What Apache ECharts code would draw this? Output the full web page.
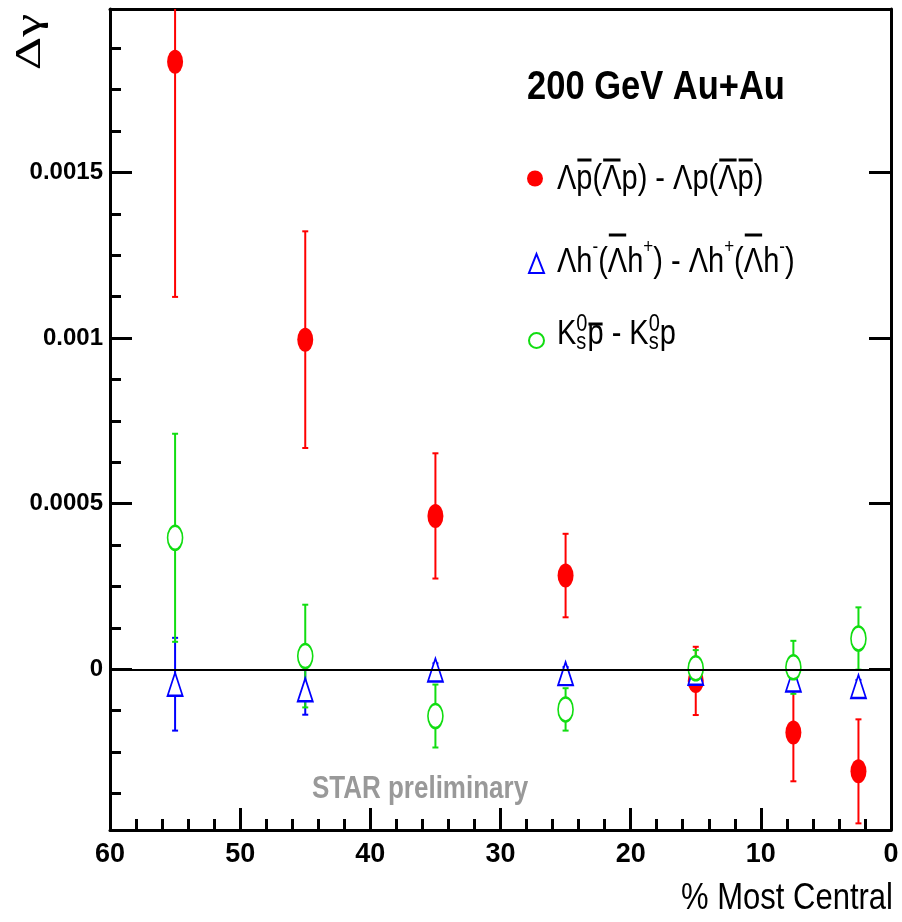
<!DOCTYPE html>
<html><head><meta charset="utf-8">
<script src="https://cdn.jsdelivr.net/npm/echarts@6/dist/echarts.min.js"></script>
<style>html,body{margin:0;padding:0;background:#fff}#c{width:902px;height:922px}</style>
</head><body><div id="c"></div>
<script>
// ---------------- data ----------------
const centrality = [55, 45, 35, 25, 15, 7.5, 2.5];
const lamP = [0.001834, 0.000995, 0.000463, 0.000283, -0.000035, -0.000191, -0.000308];
const lamPErr = [0.00071, 0.000327, 0.000189, 0.000126, 0.000103, 0.000147, 0.000157];
const lamH = [-0.000045, -0.000062, -0.000002, -0.000013, -0.000012, -0.000032, -0.000052];
const lamHErr = [0.00014, 0.000075, 0.00002, 0.00002, 0.00004, 0.00003, 0.00002];
const k0p = [0.000397, 0.00004, -0.000141, -0.000121, 0.000003, 0.000006, 0.000093];
const k0pErr = [0.000314, 0.000155, 0.000095, 0.000064, 0.000055, 0.00008, 0.000094];
const yMajorTicks = [0, 0.0005, 0.001, 0.0015];
const yTickLabels = ['0', '0.0005', '0.001', '0.0015'];
const yMinorTicks = [-0.000375, -0.00025, -0.000125, 0.000125, 0.00025, 0.000375, 0.000625, 0.00075, 0.000875,
  0.001125, 0.00125, 0.001375, 0.001625, 0.00175, 0.001875];
const xTicks = [60, 50, 40, 30, 20, 10, 0];

const SANS = '"Liberation Sans", Arial, Helvetica, sans-serif';
const RED = '#ff0000', BLUE = '#0000ff', GREEN = '#11dd11';
const SY = 1.2; // vertical stretch of the text, as in the reference

// ---------------- helpers ----------------
function errSeries(name, vals, errs, color) {
  return {
    type: 'custom', name: name, silent: true,
    data: centrality.map((x, i) => [x, vals[i], errs[i]]),
    encode: { x: 0, y: 1 },
    renderItem: function (params, api) {
      const x = api.value(0), y = api.value(1), e = api.value(2);
      const cs = params.coordSys;
      const t = api.coord([x, y + e]), b = api.coord([x, y - e]);
      let y1 = t[1], y2 = b[1];
      const children = [];
      let capTop = true, capBot = true;
      if (y1 < cs.y) { y1 = cs.y; capTop = false; }
      if (y2 > cs.y + cs.height) { y2 = cs.y + cs.height; capBot = false; }
      children.push({ type: 'line', shape: { x1: t[0], y1: y1, x2: t[0], y2: y2 }, style: { stroke: color, lineWidth: 2 } });
      if (capTop) children.push({ type: 'line', shape: { x1: t[0] - 3, y1: y1, x2: t[0] + 3, y2: y1 }, style: { stroke: color, lineWidth: 2 } });
      if (capBot) children.push({ type: 'line', shape: { x1: t[0] - 3, y1: y2, x2: t[0] + 3, y2: y2 }, style: { stroke: color, lineWidth: 2 } });
      return { type: 'group', children: children };
    }
  };
}

const cv = document.createElement('canvas').getContext('2d');
function mw(text, font) { cv.font = font; return cv.measureText(text).width; }

function txt(x, y, text, font, extra) {
  return Object.assign({ type: 'text', x: x, y: y, scaleY: SY,
    style: { text: text, font: font, fill: '#000', align: 'left', verticalAlign: 'middle' } }, extra || {});
}

function richRow(x0, yMid, parts, fs, overOff) {
  const els = [];
  const big = fs + 'px ' + SANS;
  const small = Math.round(fs * 0.68) + 'px ' + SANS;
  const sup = Math.round(fs * 0.6) + 'px ' + SANS;
  let x = x0;
  parts.forEach(p => {
    if (p.supsub) {
      const w1 = mw(p.supsub[0], small), w2 = mw(p.supsub[1], small);
      els.push(txt(x, yMid - 10, p.supsub[0], small));
      els.push(txt(x, yMid + 8.5, p.supsub[1], small));
      x += Math.max(w1, w2);
    } else if (p.sup) {
      const w = mw(p.sup, sup);
      els.push(txt(x, yMid - 15, p.sup, sup));
      x += w;
    } else {
      const w = mw(p.t, big);
      els.push(txt(x, yMid, p.t, big));
      if (p.over) {
        const oy = yMid - overOff;
        els.push({ type: 'line', shape: { x1: x + 1, y1: oy, x2: x + w - 1, y2: oy }, style: { stroke: '#000', lineWidth: 3 } });
      }
      x += w;
    }
  });
  return els;
}

const FS = 29;
const row1 = richRow(557, 179, [
  { t: '\u039B' }, { t: 'p', over: true }, { t: '(' }, { t: '\u039B', over: true }, { t: 'p) - \u039Bp(' },
  { t: '\u039B', over: true }, { t: 'p', over: true }, { t: ')' }], FS, 19);
const row2 = richRow(557, 262, [
  { t: '\u039Bh' }, { sup: '-' }, { t: '(' }, { t: '\u039B', over: true }, { t: 'h' }, { sup: '+' },
  { t: ') - \u039Bh' }, { sup: '+' }, { t: '(' }, { t: '\u039B', over: true }, { t: 'h' }, { sup: '-' }, { t: ')' }], FS, 27);
const row3 = richRow(557, 334, [
  { t: 'K' }, { supsub: ['0', 's'] }, { t: 'p', over: true }, { t: ' - K' }, { supsub: ['0', 's'] }, { t: 'p' }], FS, 10);

const chart = echarts.init(document.getElementById('c'), null, { renderer: 'canvas' });
const yMin = -0.000485, yMax = 0.001993;
const gridBox = { left: 110, right: 11, top: 9, bottom: 92 };
const ELLIPSE = 'path://M50,0 A50,50 0 1,1 50,100 A50,50 0 1,1 50,0 Z';

const option = {
  backgroundColor: '#ffffff',
  animation: false,
  grid: [Object.assign({}, gridBox), Object.assign({}, gridBox)],
  xAxis: [{
    type: 'value', gridIndex: 0, min: 0, max: 60, interval: 10, inverse: true, position: 'bottom',
    axisLine: { show: true, onZero: false, lineStyle: { color: '#000', width: 3 } },
    axisTick: { show: true, inside: true, length: 22, lineStyle: { color: '#000', width: 3 } },
    minorTick: { show: true, splitNumber: 5, length: 11, lineStyle: { color: '#000', width: 3 } },
    splitLine: { show: false }, minorSplitLine: { show: false },
    axisLabel: { show: true, margin: 11, color: '#000', fontSize: 27, fontWeight: 'bold', fontFamily: SANS,
      formatter: v => (xTicks.indexOf(v) >= 0 ? String(v) : '') }
  }, {
    type: 'value', gridIndex: 0, min: 0, max: 60, inverse: true, position: 'top',
    axisLine: { show: true, onZero: false, lineStyle: { color: '#000', width: 3 } },
    axisTick: { show: false }, axisLabel: { show: false }, splitLine: { show: false }
  }, {
    type: 'value', gridIndex: 1, min: 0, max: 60, inverse: true, show: false
  }],
  yAxis: [{
    type: 'value', gridIndex: 0, min: yMin, max: yMax, position: 'left',
    axisLine: { show: true, onZero: false, lineStyle: { color: '#000', width: 3 } },
    axisTick: { show: true, inside: true, length: 22, customValues: yMajorTicks, lineStyle: { color: '#000', width: 3 } },
    splitLine: { show: false },
    axisLabel: { show: true, margin: 7, color: '#000', fontSize: 24, fontWeight: 'bold', fontFamily: SANS,
      customValues: yMajorTicks,
      formatter: v => { const i = yMajorTicks.findIndex(t => Math.abs(t - v) < 1e-9); return i >= 0 ? yTickLabels[i] : ''; } }
  }, {
    type: 'value', gridIndex: 0, min: yMin, max: yMax, position: 'right',
    axisLine: { show: true, onZero: false, lineStyle: { color: '#000', width: 3 } },
    axisTick: { show: true, inside: true, length: 22, customValues: yMajorTicks, lineStyle: { color: '#000', width: 3 } },
    axisLabel: { show: false }, splitLine: { show: false }
  }, {
    type: 'value', gridIndex: 1, min: yMin, max: yMax, position: 'left',
    axisLine: { show: false, onZero: false },
    axisTick: { show: true, inside: true, length: 11, customValues: yMinorTicks, lineStyle: { color: '#000', width: 3 } },
    axisLabel: { show: false }, splitLine: { show: false }
  }],
  legend: [
    { data: ['lamP'], left: 522, top: 162, itemWidth: 16, itemHeight: 23, selectedMode: false, formatter: () => '', icon: ELLIPSE,
      itemStyle: { color: RED, borderWidth: 0 } },
    { data: ['lamH'], left: 523, top: 248, itemWidth: 15, itemHeight: 19, selectedMode: false, formatter: () => '', icon: 'triangle',
      itemStyle: { color: '#fff', borderColor: BLUE, borderWidth: 2 } },
    { data: ['k0p'], left: 523, top: 325, itemWidth: 15, itemHeight: 21, selectedMode: false, formatter: () => '', icon: ELLIPSE,
      itemStyle: { color: '#fff', borderColor: GREEN, borderWidth: 2 } }
  ],
  graphic: [
    { type: 'text', x: 31, y: 42, rotation: Math.PI / 2, scaleX: 1.45,
      style: { text: '\u0394\u03B3', font: '36px "Liberation Serif", "DejaVu Serif", serif', fill: '#000', align: 'center', verticalAlign: 'middle' } },
    txt(893, 899, '% Most Central', '31px ' + SANS, { style: { text: '% Most Central', font: '31px ' + SANS, fill: '#000', align: 'right', verticalAlign: 'middle' } }),
    txt(656, 88, '200 GeV Au+Au', 'bold 34.5px ' + SANS, { style: { text: '200 GeV Au+Au', font: 'bold 34.5px ' + SANS, fill: '#000', align: 'center', verticalAlign: 'middle' } }),
    txt(420, 789, 'STAR preliminary', 'bold 26px ' + SANS, { style: { text: 'STAR preliminary', font: 'bold 26px ' + SANS, fill: '#999999', align: 'center', verticalAlign: 'middle' } })
  ].concat(row1, row2, row3),
  series: [
    Object.assign(errSeries('lamPErr', lamP, lamPErr, RED), {
      markLine: { silent: true, symbol: 'none', label: { show: false },
        lineStyle: { color: '#000', width: 2, type: 'solid' }, data: [{ yAxis: 0 }] }
    }),
    { type: 'scatter', name: 'lamP', data: centrality.map((x, i) => [x, lamP[i]]),
      symbol: 'circle', symbolSize: [16, 24], itemStyle: { color: RED, opacity: 1 } },
    errSeries('lamHErr', lamH, lamHErr, BLUE),
    { type: 'scatter', name: 'lamH', data: centrality.map((x, i) => [x, lamH[i]]),
      symbol: 'emptyTriangle', symbolSize: [15, 23], itemStyle: { color: BLUE, borderColor: BLUE, borderWidth: 2.5, opacity: 1 } },
    errSeries('k0pErr', k0p, k0pErr, GREEN),
    { type: 'scatter', name: 'k0p', data: centrality.map((x, i) => [x, k0p[i]]),
      symbol: 'emptyCircle', symbolSize: [15, 24], itemStyle: { color: GREEN, borderColor: GREEN, borderWidth: 2.5, opacity: 1 } }
  ]
};
chart.setOption(option);
</script>
</body></html>
